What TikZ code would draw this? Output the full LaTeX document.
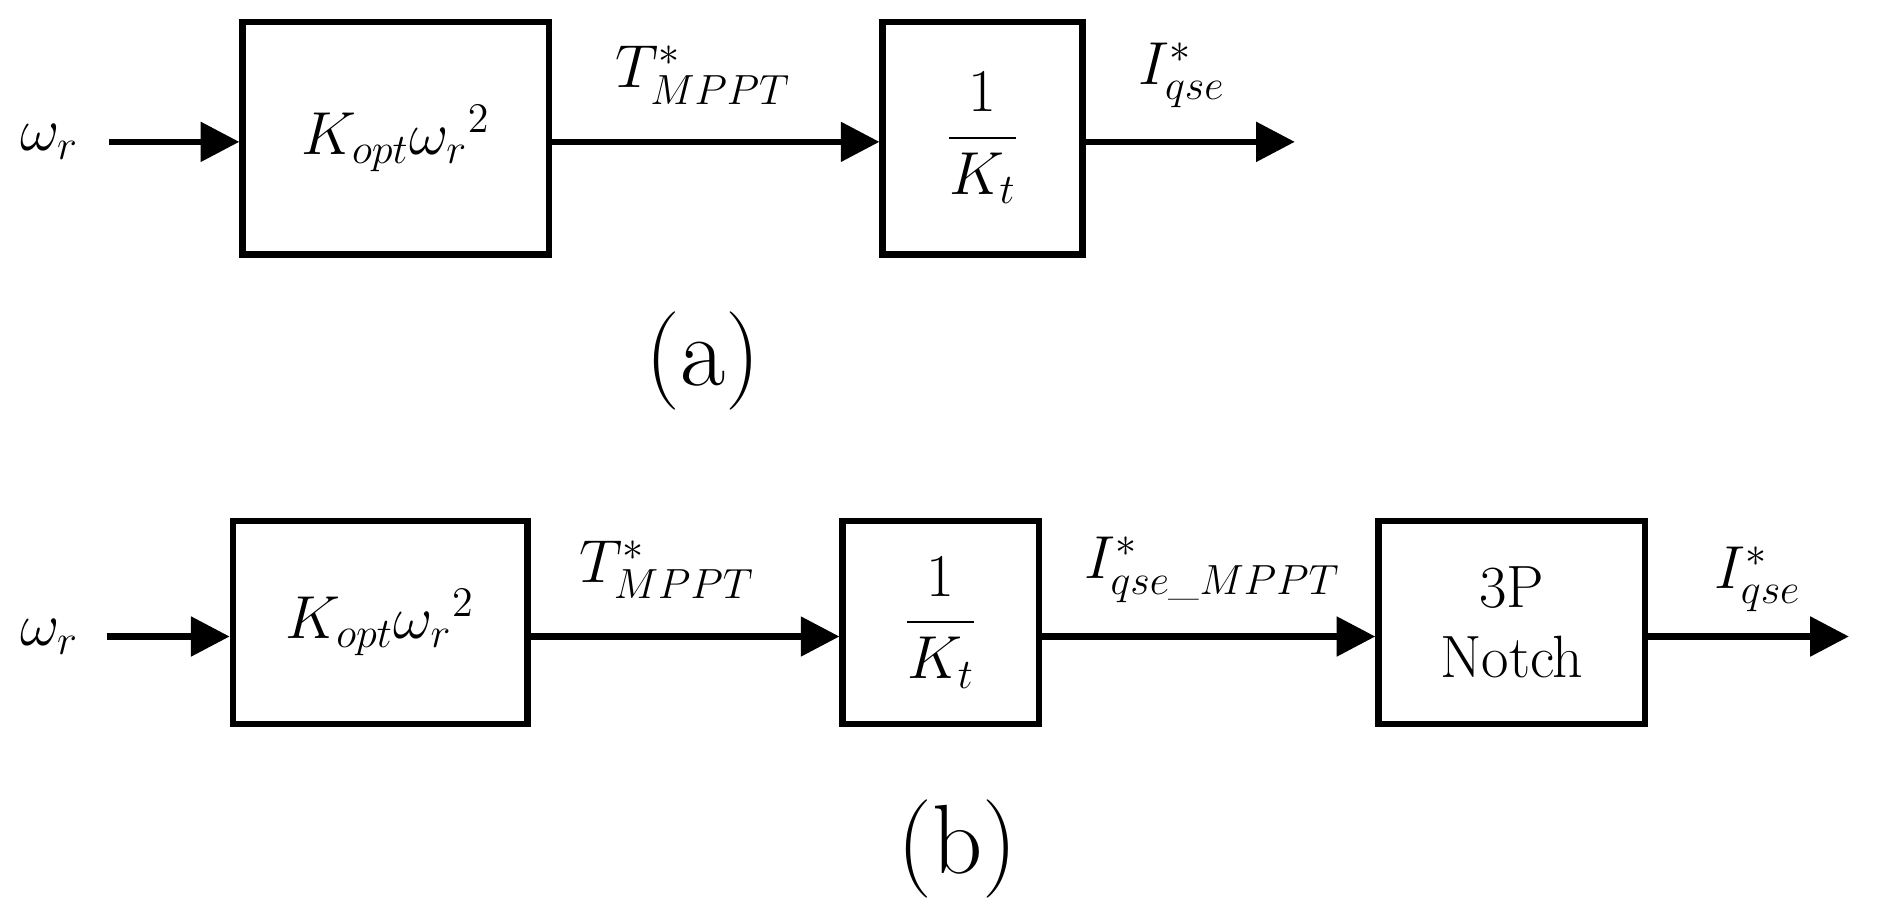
\documentclass[tikz,border=0pt]{standalone}
\usepackage{amsmath}
\usetikzlibrary{arrows.meta}
\begin{document}
\begin{tikzpicture}[x=0.012125cm,y=-0.012125cm,
  blk/.style={draw,line width=1.8pt,inner sep=0pt},
  arr/.style={line width=1.8pt,-{Triangle[length=11pt,width=11pt]}},
  lbl/.style={font=\fontsize{17}{20}\selectfont},
  figcap/.style={font=\fontsize{28}{32}\selectfont}]
\useasboundingbox (0,0) rectangle (1568,750);
% (a)
\node[blk,minimum width=253*0.012125cm,minimum height=192*0.012125cm] (a1) at (326.5,114) {};
\node[lbl] at (a1) {$K_{opt}\omega_r{}^2$};
\node[blk,minimum width=165*0.012125cm,minimum height=192*0.012125cm] (a2) at (810.5,114) {};
\node[lbl] at (a2) {$\dfrac{1}{K_t}$};
\node[lbl,anchor=east] (aw) at (75,117) {$\omega_r$};
\coordinate (ain) at (90,117);
\coordinate (aout) at (1068,117);
\draw[arr] (ain) -- (a1.west|-ain);
\draw[arr] (a1.east|-ain) -- (a2.west|-ain);
\draw[arr] (a2.east|-ain) -- (aout);
\node[lbl] at (580,62) {$T^{*}_{MPPT}$};
\node[lbl] at (975,62) {$I^{*}_{qse}$};
\node[figcap] at (580,298) {(a)};
% (b)
\node[blk,minimum width=243*0.012125cm,minimum height=167*0.012125cm] (b1) at (313.5,513.5) {};
\node[lbl] at (b1) {$K_{opt}\omega_r{}^2$};
\node[blk,minimum width=162*0.012125cm,minimum height=167*0.012125cm] (b2) at (776,513.5) {};
\node[lbl] at (b2) {$\dfrac{1}{K_t}$};
\node[blk,minimum width=220*0.012125cm,minimum height=167*0.012125cm,lbl,align=center] (b3) at (1247,513.5) {3P\\Notch};
\node[lbl,anchor=east] (bw) at (75,525) {$\omega_r$};
\coordinate (bin) at (88,525);
\coordinate (bout) at (1525,525);
\draw[arr] (bin) -- (b1.west|-bin);
\draw[arr] (b1.east|-bin) -- (b2.west|-bin);
\draw[arr] (b2.east|-bin) -- (b3.west|-bin);
\draw[arr] (b3.east|-bin) -- (bout);
\node[lbl] at (550,470) {$T^{*}_{MPPT}$};
\node[lbl] at (1000,470) {$I^{*}_{qse\_MPPT}$};
\node[lbl] at (1450,478) {$I^{*}_{qse}$};
\node[figcap] at (790,700) {(b)};
\end{tikzpicture}
\end{document}
